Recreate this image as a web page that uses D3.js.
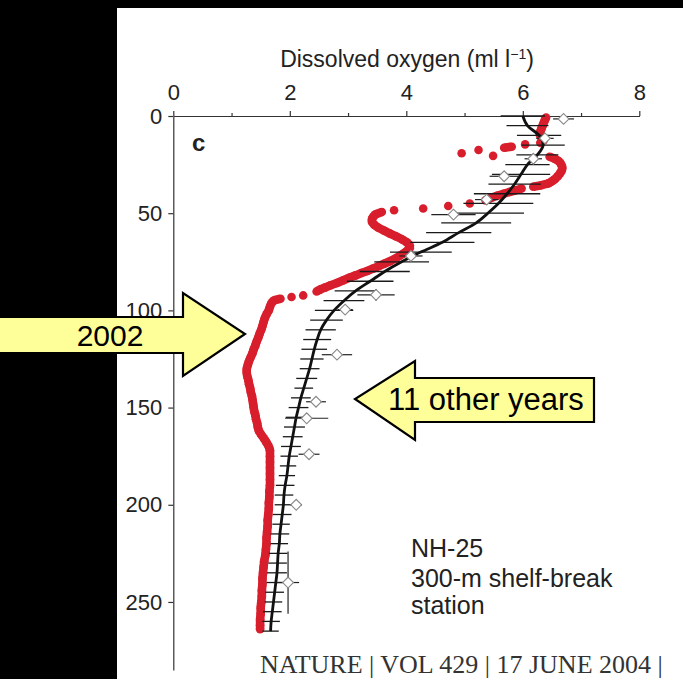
<!DOCTYPE html>
<html>
<head>
<meta charset="utf-8">
<script src="https://cdn.jsdelivr.net/npm/d3@7"></script>
<style>
body { margin: 0; background: #000; }
svg { display: block; }
text { font-family: "Liberation Sans", Arial, sans-serif; }
</style>
</head>
<body>
<script>
// data

// 11 other years: mean profile with error bars every 5 m
var meanDepth = [0,5,10,15,20,25,30,35,40,45,50,55,60,65,70,75,80,85,90,95,100,105,110,115,120,125,130,
  135,140,145,150,155,160,165,170,175,180,185,190,195,200,205,210,215,220,225,230,235,240,245,250,255,260,265];
var meanOxy = [6.00,6.08,6.28,6.35,6.25,6.08,5.97,5.86,5.73,5.58,5.40,5.20,4.90,4.62,4.25,3.92,3.63,3.38,3.13,2.93,
  2.76,2.63,2.53,2.47,2.42,2.38,2.34,2.29,2.24,2.19,2.15,2.11,2.08,2.05,2.02,1.99,1.97,1.95,1.92,1.90,1.89,1.87,
  1.85,1.83,1.82,1.80,1.79,1.78,1.76,1.74,1.72,1.70,1.68,1.67];
var meanErr = [0.38,0.36,0.38,0.37,0.36,0.38,0.50,0.45,0.57,0.60,0.62,0.60,0.56,0.55,0.53,0.47,0.43,0.40,0.36,0.35,
  0.33,0.28,0.26,0.24,0.22,0.20,0.17,0.18,0.16,0.17,0.17,0.18,0.18,0.17,0.17,0.15,0.14,0.14,0.16,0.16,0.15,0.16,
  0.15,0.16,0.15,0.16,0.16,0.17,0.16,0.16,0.15,0.16,0.15,0.14];

// 2002 profile
var redDepth = [0.8,2,3.5,5,6.5,8,9.5,11,12.5,13.8,
  14.6,15.8,16.3,17.5,19.2,20.5,
  21,22,23.5,25,26.5,28,29.5,31,32.5,33.6,34.7,
  35.6,36.4,37.3,38.2,39.1,40,40.9,41.8,42.6,43.4,
  45,46.3,47.6,48.5,49.4,
  50.6,51.8,53,54.5,56,57.5,59,60.5,62,63.5,65,66.5,68,69.5,70.8,72,73.4,74.7,75.9,77.2,78.5,79.7,
  80.8,82,83.1,84.5,85.9,87.1,88.3,89.3,90.3,
  92.3,93.1,94,94.8,
  96,98,100,102,104,106,108,110,112,114,116,118,120,122,124,126,128,130,132,134,136,138,140,142,144,146,
  148,150,152,154,156,158,160,162,164,166,168,170,172,175,178,181,184,187,190,193,196,199,202,205,208,
  211,214,217,220,223,226,229,232,235,238,241,244,247,250,253,256,259,262,264];
var redOxy = [6.40,6.38,6.36,6.34,6.32,6.30,6.29,6.32,6.36,6.30,
  6.04,5.81,5.68,5.24,4.95,5.49,
  6.46,6.55,6.63,6.66,6.68,6.67,6.64,6.60,6.55,6.50,6.44,
  6.32,6.18,5.98,5.88,5.77,5.67,5.57,5.48,5.42,5.36,
  5.09,4.72,4.29,3.79,3.58,
  3.47,3.43,3.41,3.41,3.45,3.52,3.62,3.72,3.83,3.93,4.01,4.06,4.06,4.01,3.95,3.88,3.81,3.72,3.63,3.53,3.43,3.33,
  3.23,3.13,3.03,2.92,2.81,2.70,2.60,2.52,2.46,
  2.23,2.03,1.84,1.73,
  1.69,1.66,1.64,1.60,1.57,1.55,1.53,1.51,1.48,1.46,1.43,1.41,1.38,1.36,1.33,1.30,1.28,1.26,1.26,1.27,1.29,1.30,
  1.32,1.33,1.35,1.36,1.37,1.38,1.39,1.41,1.42,1.44,1.45,1.47,1.51,1.56,1.60,1.64,1.66,1.66,1.66,1.66,1.66,1.66,
  1.66,1.65,1.65,1.64,1.64,1.63,1.62,1.62,1.61,1.60,1.60,1.59,1.58,1.56,1.55,1.54,1.53,1.53,1.52,1.52,1.51,1.50,
  1.50,1.49,1.49,1.49];

// open diamonds with their error bars
var diaDepth = [1.5,11.5,22,31,43,50.7,72,92,99.6,122.8,147,155.5,174,200,240];
var diaOxy = [6.70,6.38,6.18,5.68,5.38,4.81,4.08,3.48,2.95,2.81,2.45,2.29,2.33,2.11,1.97];
var diaErrX = [0.18,0.15,0.15,0.25,0.20,0.38,0.20,0.32,0.13,0.26,0.17,0.37,0.18,0.10,0.19];
var diaErrY = [0,0,0,0,0,0,0,3,0,0,0,0,0,0,16];

// axis ticks
var xMajor = [0,2,4,6,8];
var xMinor = [1,3,5,7];
var yTicks = [0,50,100,150,200,250];

var RED = "#d81e2c";
var GAP = 10.5;   // dots closer than this are joined into a thick line

var svg = d3.select("body").append("svg")
  .attr("width", 683)
  .attr("height", 679);

// black frame and white panel
svg.append("rect")
  .attr("width", 683)
  .attr("height", 679)
  .style("fill", "#000");
svg.append("rect")
  .attr("x", 117)
  .attr("y", 8)
  .attr("width", 566)
  .attr("height", 671)
  .style("fill", "#fff");

// scales
var x = d3.scaleLinear().domain([0, 8]).range([173.3, 639.3]);
var y = d3.scaleLinear().domain([0, 285]).range([116, 670]);

// top axis
var xAxis = svg.append("g")
  .attr("transform", "translate(0," + y(0) + ")")
  .call(d3.axisTop(x).tickValues(xMajor).tickSize(5).tickSizeOuter(0).tickPadding(11));
var xMinorAxis = svg.append("g")
  .attr("transform", "translate(0," + y(0) + ")")
  .call(d3.axisTop(x).tickValues(xMinor).tickSize(3).tickSizeOuter(0).tickFormat(""));

// left axis
var yAxis = svg.append("g")
  .attr("transform", "translate(" + x(0) + ",0)")
  .call(d3.axisLeft(y).tickValues(yTicks).tickSize(5).tickSizeOuter(0).tickPadding(6));

svg.selectAll(".domain, .tick line")
  .style("stroke", "#333")
  .style("stroke-width", 1.2);
svg.selectAll(".tick text")
  .style("font-family", "'Liberation Sans', Arial, sans-serif")
  .style("font-size", "22px")
  .style("fill", "#222");

// axis title
var title = svg.append("text")
  .attr("x", 407)
  .attr("y", 67)
  .attr("text-anchor", "middle")
  .style("font-size", "23px")
  .style("fill", "#222");
title.append("tspan").text("Dissolved oxygen (ml l");
title.append("tspan")
  .attr("dy", -8)
  .style("font-size", "14px")
  .text("\u22121");
title.append("tspan")
  .attr("dy", 8)
  .text(")");

// panel letter
svg.append("text")
  .attr("x", 192)
  .attr("y", 151)
  .style("font-size", "24px")
  .style("font-weight", "bold")
  .style("fill", "#222")
  .text("c");

// 2002 profile: dots, joined where they touch
var redPts = redDepth.map(function(d, i){ return [x(redOxy[i]), y(d)]; });
var redG = svg.append("g");
for (var i = 1; i < redPts.length; i++){
  var dx = redPts[i][0] - redPts[i-1][0];
  var dy = redPts[i][1] - redPts[i-1][1];
  if (Math.sqrt(dx*dx + dy*dy) < GAP){
    redG.append("line")
      .attr("x1", redPts[i-1][0])
      .attr("y1", redPts[i-1][1])
      .attr("x2", redPts[i][0])
      .attr("y2", redPts[i][1])
      .style("stroke", RED)
      .style("stroke-width", 8.6);
  }
}
redG.selectAll("circle")
  .data(redPts)
  .enter().append("circle")
  .attr("cx", function(d){ return d[0]; })
  .attr("cy", function(d){ return d[1]; })
  .attr("r", 4.3)
  .style("fill", RED);

// mean of the other years: error bars and line
var bars = svg.append("g");
meanDepth.forEach(function(d, i){
  bars.append("line")
    .attr("x1", x(meanOxy[i] - meanErr[i]))
    .attr("x2", x(meanOxy[i] + meanErr[i]))
    .attr("y1", y(d))
    .attr("y2", y(d))
    .style("stroke", "#1a1a1a")
    .style("stroke-width", 1.3);
});

var meanLine = d3.line()
  .x(function(d, i){ return x(meanOxy[i]); })
  .y(function(d){ return y(d); })
  .curve(d3.curveCatmullRom);

svg.append("path")
  .attr("d", meanLine(meanDepth))
  .style("fill", "none")
  .style("stroke", "#111")
  .style("stroke-width", 2.8);

// diamonds with error bars
var dia = svg.append("g");
diaDepth.forEach(function(d, i){
  dia.append("line")
    .attr("x1", x(diaOxy[i] - diaErrX[i]))
    .attr("x2", x(diaOxy[i] + diaErrX[i]))
    .attr("y1", y(d))
    .attr("y2", y(d))
    .style("stroke", "#222")
    .style("stroke-width", 1.2);
  if (diaErrY[i] > 0){
    dia.append("line")
      .attr("x1", x(diaOxy[i]))
      .attr("x2", x(diaOxy[i]))
      .attr("y1", y(d - diaErrY[i]))
      .attr("y2", y(d + diaErrY[i]))
      .style("stroke", "#222")
      .style("stroke-width", 1.2);
  }
});
dia.selectAll("path")
  .data(diaDepth)
  .enter().append("path")
  .attr("d", d3.symbol().type(d3.symbolSquare).size(58))
  .attr("transform", function(d, i){ return "translate(" + x(diaOxy[i]) + "," + y(d) + ") rotate(45)"; })
  .style("fill", "#fff")
  .style("stroke", "#888")
  .style("stroke-width", 1.1);

// yellow arrows
var arrowFill = "#ffff99";
svg.append("path")
  .attr("d", "M-5,317 L183,317 L183,293 L245,334 L183,376 L183,353 L-5,353 Z")
  .style("fill", arrowFill)
  .style("stroke", "#000")
  .style("stroke-width", 2.2);
svg.append("text")
  .attr("x", 110)
  .attr("y", 346)
  .attr("text-anchor", "middle")
  .style("font-size", "30px")
  .style("fill", "#000")
  .text("2002");

svg.append("path")
  .attr("d", "M594,378 L415,378 L415,361 L355,399 L415,440 L415,422 L594,422 Z")
  .style("fill", arrowFill)
  .style("stroke", "#000")
  .style("stroke-width", 2.2);
svg.append("text")
  .attr("x", 388)
  .attr("y", 410)
  .style("font-size", "31px")
  .style("fill", "#000")
  .text("11 other years");

// station label
svg.append("text")
  .attr("x", 411)
  .attr("y", 557)
  .style("font-size", "25px")
  .style("fill", "#222")
  .text("NH-25");
svg.append("text")
  .attr("x", 411)
  .attr("y", 587)
  .style("font-size", "25px")
  .style("fill", "#222")
  .text("300-m shelf-break");
svg.append("text")
  .attr("x", 411)
  .attr("y", 614)
  .style("font-size", "25px")
  .style("fill", "#222")
  .text("station");

// journal footer
svg.append("text")
  .attr("x", 260)
  .attr("y", 673)
  .style("font-family", "'Liberation Serif', 'Times New Roman', serif")
  .style("font-size", "26px")
  .style("fill", "#333")
  .text("NATURE | VOL 429 | 17 JUNE 2004 |");
</script>
</body>
</html>
